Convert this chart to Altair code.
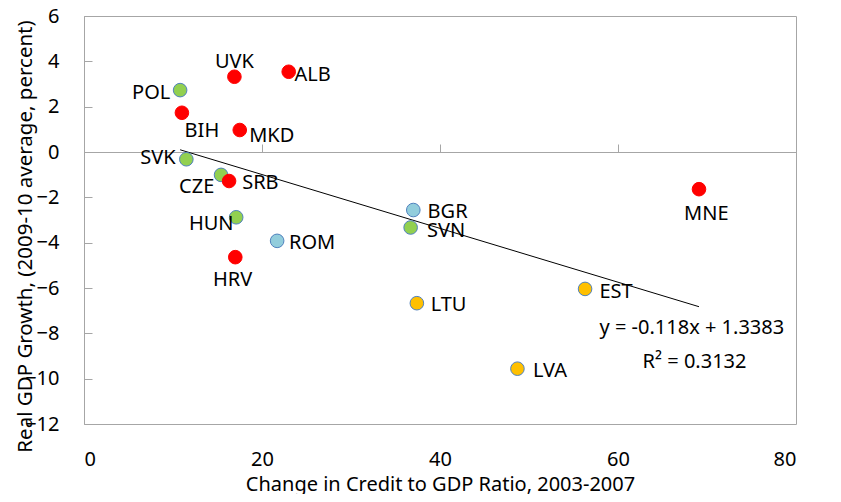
import altair as alt
import pandas as pd

# ---- data ----
countries = ["POL", "UVK", "ALB", "BIH", "MKD", "SVK", "CZE", "SRB", "HUN",
             "ROM", "HRV", "BGR", "SVN", "MNE", "EST", "LTU", "LVA"]
credit_change = [10.8, 16.9, 23.0, 11.0, 17.5, 11.5, 15.4, 16.3, 17.1,
                 21.7, 17.0, 37.0, 36.7, 69.1, 56.3, 37.4, 48.7]
gdp_growth = [2.73, 3.32, 3.54, 1.73, 0.97, -0.32, -1.01, -1.28, -2.88,
              -3.92, -4.64, -2.56, -3.33, -1.64, -6.04, -6.67, -9.56]
groups = ["g", "r", "r", "r", "r", "g", "g", "r", "g",
          "b", "r", "b", "g", "r", "o", "o", "o"]

x_ticks = [0, 20, 40, 60, 80]
y_ticks = [-12, -10, -8, -6, -4, -2, 0, 2, 4, 6]
eq_text = ["y = -0.118x + 1.3383", "R\u00b2 = 0.3132"]
eq_x = [68.3, 68.6]
eq_y = [-7.75, -9.25]

# ---- label placement (pixel offsets of label centre from point centre) ----
label_dx = [-29, 0, 24, 20, 32, -28.5, -24.4, 31.3, -25, 35, -2.7, 34.3, 35.5, 7.3, 31, 31.7, 32.5]
label_dy = [3.3, -15, 3.3, 18, 5.5, -1, 11.7, 2.3, 7, 1.7, 22.7, 1.7, 3.3, 24.7, 2.7, 1.7, 2.7]

df = pd.DataFrame({"country": countries, "x": credit_change, "y": gdp_growth, "grp": groups})
eq_df = pd.DataFrame({"t": eq_text, "x": eq_x, "y": eq_y})

W, H = 712, 408
FONT = "Noto Sans"
GRAY = "#A6A6A6"

xscale = alt.Scale(domain=[0, 80], nice=False)
yscale = alt.Scale(domain=[-12, 6], nice=False)

fill_scale = alt.Scale(domain=["r", "g", "b", "o"],
                       range=["#FF0000", "#92D050", "#92CDDC", "#FFC000"])
stroke_scale = alt.Scale(domain=["r", "g", "b", "o"],
                         range=["#FF0000", "#4F81BD", "#4F81BD", "#4F81BD"])

points = alt.Chart(df).mark_point(filled=True, shape="circle", size=185,
                                  opacity=1, strokeWidth=1).encode(
    x=alt.X("x:Q", scale=xscale,
            axis=alt.Axis(values=x_ticks, domain=False, ticks=False, tickSize=0,
                          labelPadding=35, labelBaseline="middle",
                          labelFont=FONT, labelFontSize=20, labelColor="#000",
                          grid=False, title="Change in Credit to GDP Ratio, 2003-2007",
                          titleFont=FONT, titleFontSize=20, titleFontWeight="normal",
                          titleColor="#000", titleBaseline="alphabetic", titleY=66)),
    y=alt.Y("y:Q", scale=yscale,
            axis=alt.Axis(values=y_ticks, domain=True, domainColor=GRAY,
                          ticks=False, tickSize=0, labelPadding=25,
                          labelFont=FONT, labelFontSize=20, labelColor="#000",
                          grid=False, title="Real GDP Growth, (2009-10 average, percent)",
                          titleFont=FONT, titleFontSize=20.5, titleFontWeight="normal",
                          titleColor="#000", titleBaseline="middle", titleX=-59,
                          titleY=H / 2 + 16)),
    fill=alt.Fill("grp:N", scale=fill_scale, legend=None),
    stroke=alt.Stroke("grp:N", scale=stroke_scale, legend=None),
)

trend = alt.Chart(df).mark_line(color="black", strokeWidth=1).transform_regression(
    "x", "y", method="linear"
).encode(
    x=alt.X("x:Q", scale=xscale,
            axis=alt.Axis(orient="top", offset=-(H * 6 / 18), values=x_ticks,
                          labels=False, title=None, grid=False,
                          domainColor=GRAY, tickColor=GRAY, tickSize=8)),
    y=alt.Y("y:Q", scale=yscale,
            axis=alt.Axis(orient="right", offset=-W, values=y_ticks,
                          labels=False, title=None, grid=False, domain=False,
                          tickColor=GRAY, tickSize=8)),
)

label_layers = []
for i, c in enumerate(countries):
    label_layers.append(
        alt.Chart(df).transform_filter(alt.datum.country == c).mark_text(
            font=FONT, fontSize=20, color="#000", align="center",
            baseline="middle", dx=label_dx[i], dy=label_dy[i]
        ).encode(
            x=alt.X("x:Q", scale=xscale, axis=None),
            y=alt.Y("y:Q", scale=yscale, axis=None),
            text="country:N",
        )
    )

eq = alt.Chart(eq_df).mark_text(font=FONT, fontSize=20, color="#000",
                                align="center", baseline="middle").encode(
    x=alt.X("x:Q", scale=xscale, axis=None),
    y=alt.Y("y:Q", scale=yscale, axis=None),
    text="t:N",
)

chart = alt.layer(trend, points, *label_layers, eq).resolve_axis(
    x="independent", y="independent"
).properties(
    width=W, height=H,
    autosize=alt.AutoSizeParams(type="none"),
    padding={"left": 76, "top": 8, "right": 37, "bottom": 70},
).configure_view(stroke=GRAY, strokeWidth=1)

chart.save("out.html", embed_options={"renderer": "svg", "actions": False})
